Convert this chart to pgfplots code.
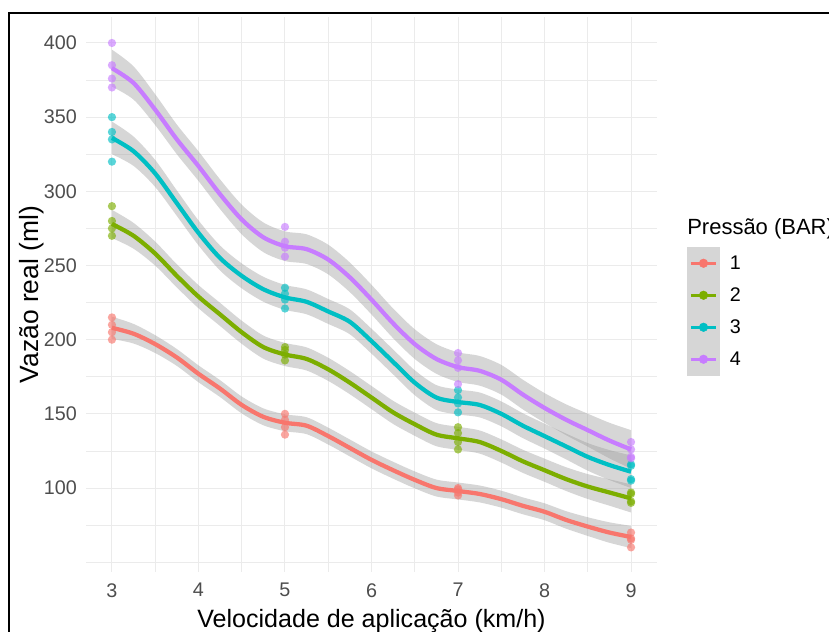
\documentclass[border=0pt]{standalone}
\usepackage{fontspec}
\setmainfont{Liberation Sans}
\usepackage{pgfplots}
\pgfplotsset{compat=1.18}
\usepackage{pgfplotstable}
\usepgfplotslibrary{fillbetween}
\definecolor{c1}{HTML}{F8766D}
\definecolor{c2}{HTML}{7CAE00}
\definecolor{c3}{HTML}{00BFC4}
\definecolor{c4}{HTML}{C77CFF}
\definecolor{rib}{HTML}{999999}
\definecolor{keybg}{HTML}{D6D6D6}
\definecolor{gridc}{HTML}{EBEBEB}
\definecolor{tickc}{HTML}{4D4D4D}

\pgfplotstableread{
x y se
3 208 7.5
3.25 204 6.6
3.5 197 6.0
3.75 188 5.7
4 177 5.7
4.25 167 5.7
4.5 156 5.7
4.75 148 5.7
5 144 5.7
5.25 142 5.7
5.5 135 5.7
5.75 127 5.7
6 119 5.7
6.25 112 5.7
6.5 105.5 5.7
6.75 100 5.7
7 98 5.7
7.25 96 5.7
7.5 92.5 5.7
7.75 88 5.7
8 84 5.7
8.25 78.5 5.9
8.5 74 6.3
8.75 70 6.9
9 67 7.5
}\tabA
\pgfplotstableread{
x y se
3 278 9.5
3.25 270 8.7
3.5 258 8.1
3.75 243 7.8
4 229 7.8
4.25 217 7.8
4.5 205 7.8
4.75 195 7.8
5 190 7.8
5.25 187 7.8
5.5 180 7.8
5.75 171 7.8
6 161 7.8
6.25 151 7.8
6.5 143 7.8
6.75 136 7.8
7 133.5 7.8
7.25 131 7.8
7.5 125 7.8
7.75 118 7.8
8 112 7.8
8.25 106 8.0
8.5 101 8.4
8.75 97 8.9
9 93 9.5
}\tabB
\pgfplotstableread{
x y se
3 336 11
3.25 327 9.9
3.5 312 9.1
3.75 292 8.6
4 272 8.4
4.25 255 8.4
4.5 243 8.4
4.75 234 8.4
5 228.5 8.4
5.25 225.5 8.4
5.5 219 8.4
5.75 212 8.4
6 199 8.4
6.25 185 8.4
6.5 171 8.4
6.75 161 8.4
7 158 8.4
7.25 156 8.4
7.5 150 8.4
7.75 142 8.4
8 135 8.4
8.25 128 8.7
8.5 121 9.3
8.75 115.5 10.1
9 111 11
}\tabC
\pgfplotstableread{
x y se
3 383 12.5
3.25 373 11.2
3.5 355 10.4
3.75 335 10
4 317 10
4.25 298 10
4.5 281 10
4.75 269 10
5 263 10
5.25 261 10
5.5 254 10
5.75 242 10
6 227 10
6.25 211 10
6.5 197 10
6.75 187 10
7 181.5 10
7.25 179 10
7.5 173 10
7.75 163 10
8 154 10
8.25 146 10.4
8.5 139 11.1
8.75 132 12
9 126 13
}\tabD

\pgfplotsset{
  mykey/.style={legend image code/.code={
    \fill[keybg] (0pt,-11.8pt) rectangle (24pt,11.8pt);
    \draw[#1, line width=2.6pt] (2.5pt,0pt) -- (21.5pt,0pt);
    \fill[#1] (12pt,0pt) circle (3.2pt);
  }},
  ptsty/.style={only marks, mark=*, mark size=3.1pt, color=#1, mark options={draw opacity=0, fill=#1, fill opacity=0.65}, forget plot},
  ribfill/.style={fill=rib, fill opacity=0.4, draw=none},
  fitline/.style={#1, line width=3.2pt, smooth, forget plot},
}

\begin{document}
\begin{tikzpicture}
\begin{axis}[
  at={(64.5pt,45pt)}, anchor=south west,
  scale only axis, width=428.25pt, height=416.25pt,
  xmin=2.7, xmax=9.3, ymin=43.4, ymax=417.5,
  xtick={3,4,5,6,7,8,9}, ytick={100,150,200,250,300,350,400},
  minor xtick={3.5,4.5,5.5,6.5,7.5,8.5},
  minor ytick={50,75,125,175,225,275,325,375},
  grid=both,
  major grid style={gridc, line width=0.75pt},
  minor grid style={gridc, line width=0.5pt},
  axis line style={draw=none}, tick style={draw=none},
  major tick length=0pt, minor tick length=0pt,
  /pgf/number format/assume math mode=true,
  ticklabel style={font=\fontsize{14.8}{16}\selectfont, text=tickc},
  yticklabel style={anchor=east, inner sep=0pt, xshift=-6.75pt},
  xticklabel style={anchor=north, inner sep=0pt, yshift=-8.25pt},
  xlabel={Velocidade de aplicação (km/h)},
  ylabel={Vazão real (ml)},
  every axis x label/.style={at={(axis description cs:0.5,-0.0991)}, anchor=base, font=\fontsize{18.8}{20}\selectfont},
  every axis y label/.style={at={(axis description cs:-0.0832,0.5)}, rotate=90, anchor=base, font=\fontsize{19.8}{21}\selectfont},
  legend style={at={(1.0525,0.5856)}, anchor=north west, draw=none, fill=none,
    inner sep=0pt, row sep=0pt, column sep=0pt,
    nodes={inner sep=0pt, font=\fontsize{14.8}{16}\selectfont, text=black},
    cells={anchor=west},
    /tikz/every odd column/.append style={column sep=7.5pt}},
]
\addlegendimage{mykey=c1}\addlegendentry{1}
\addlegendimage{mykey=c2}\addlegendentry{2}
\addlegendimage{mykey=c3}\addlegendentry{3}
\addlegendimage{mykey=c4}\addlegendentry{4}

\addplot[ptsty=c1] coordinates {(3,215)(3,210)(3,205)(3,200)(5,150)(5,146)(5,141)(5,136)(7,100)(7,99)(7,97)(7,95)(9,70)(9,66)(9,65)(9,60)};
\addplot[ptsty=c2] coordinates {(3,290)(3,280)(3,275)(3,270)(5,195)(5,193)(5,190)(5,186)(7,141)(7,137)(7,131)(7,126)(9,97)(9,96)(9,91)(9,90)};
\addplot[ptsty=c3] coordinates {(3,350)(3,340)(3,335)(3,320)(5,235)(5,231)(5,227)(5,221)(7,166)(7,161)(7,157)(7,151)(9,116)(9,115)(9,106)(9,105)};
\addplot[ptsty=c4] coordinates {(3,400)(3,385)(3,376)(3,370)(5,276)(5,266)(5,262)(5,256)(7,191)(7,186)(7,181)(7,170)(9,131)(9,126)(9,121)(9,120)};

\addplot[draw=none, smooth, name path=uA, forget plot] table[x=x, y expr=\thisrow{y}+\thisrow{se}] {\tabA};
\addplot[draw=none, smooth, name path=lA, forget plot] table[x=x, y expr=\thisrow{y}-\thisrow{se}] {\tabA};
\addplot[ribfill] fill between[of=uA and lA];
\addplot[fitline=c1] table[x=x, y=y] {\tabA};

\addplot[draw=none, smooth, name path=uB, forget plot] table[x=x, y expr=\thisrow{y}+\thisrow{se}] {\tabB};
\addplot[draw=none, smooth, name path=lB, forget plot] table[x=x, y expr=\thisrow{y}-\thisrow{se}] {\tabB};
\addplot[ribfill] fill between[of=uB and lB];
\addplot[fitline=c2] table[x=x, y=y] {\tabB};

\addplot[draw=none, smooth, name path=uC, forget plot] table[x=x, y expr=\thisrow{y}+\thisrow{se}] {\tabC};
\addplot[draw=none, smooth, name path=lC, forget plot] table[x=x, y expr=\thisrow{y}-\thisrow{se}] {\tabC};
\addplot[ribfill] fill between[of=uC and lC];
\addplot[fitline=c3] table[x=x, y=y] {\tabC};

\addplot[draw=none, smooth, name path=uD, forget plot] table[x=x, y expr=\thisrow{y}+\thisrow{se}] {\tabD};
\addplot[draw=none, smooth, name path=lD, forget plot] table[x=x, y expr=\thisrow{y}-\thisrow{se}] {\tabD};
\addplot[ribfill] fill between[of=uD and lD];
\addplot[fitline=c4] table[x=x, y=y] {\tabD};
\end{axis}
\node[anchor=base west, font=\fontsize{16.5}{18}\selectfont, inner sep=0pt] at (515.25pt,297.75pt) {Pressão (BAR)};
\draw[line width=1.5pt] (6.4pt,-5pt) -- (6.4pt,464.6pt) -- (630pt,464.6pt);
\pgfresetboundingbox
\path[use as bounding box] (0,0) rectangle (621.75pt,474pt);
\end{tikzpicture}
\end{document}
